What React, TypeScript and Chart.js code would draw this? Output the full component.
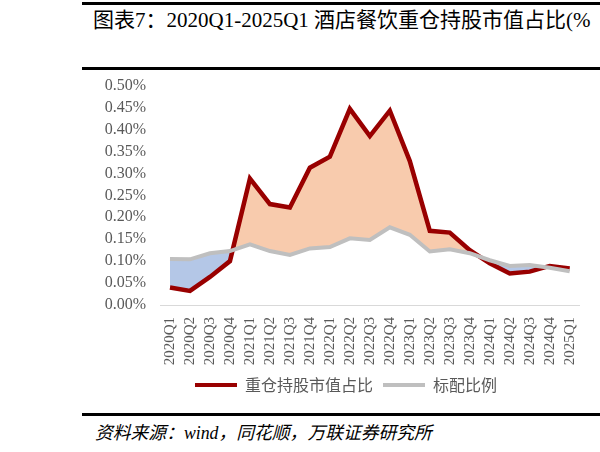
import React, { useEffect, useRef } from "react";
import { Chart, registerables } from "chart.js";

Chart.register(...registerables);

const categories = [
  "2020Q1", "2020Q2", "2020Q3", "2020Q4",
  "2021Q1", "2021Q2", "2021Q3", "2021Q4",
  "2022Q1", "2022Q2", "2022Q3", "2022Q4",
  "2023Q1", "2023Q2", "2023Q3", "2023Q4",
  "2024Q1", "2024Q2", "2024Q3", "2024Q4",
  "2025Q1",
];

const heavyHolding = [
  0.040, 0.032, 0.064, 0.100,
  0.288, 0.230, 0.222, 0.313,
  0.338, 0.447, 0.385, 0.443,
  0.328, 0.169, 0.165, 0.125,
  0.095, 0.072, 0.076, 0.089,
  0.083,
];

const benchmark = [
  0.105, 0.104, 0.118, 0.123,
  0.138, 0.123, 0.114, 0.129,
  0.132, 0.152, 0.148, 0.177,
  0.160, 0.122, 0.127, 0.118,
  0.102, 0.089, 0.091, 0.085,
  0.077,
];

const seriesNames = ["重仓持股市值占比", "标配比例"];
const titleText = "图表7：2020Q1-2025Q1 酒店餐饮重仓持股市值占比(%";
const sourceText = "资料来源：wind，同花顺，万联证券研究所";

const RED = "#990000";
const GRAY = "#BFBFBF";
const SERIF = "'Liberation Serif', 'Noto Sans CJK SC', serif";

export default function App() {
  const ref = useRef<HTMLCanvasElement | null>(null);

  useEffect(() => {
    if (!ref.current) return;
    const chart = new Chart(ref.current, {
      type: "line",
      data: {
        labels: categories,
        datasets: [
          {
            label: seriesNames[1],
            data: benchmark,
            borderColor: GRAY,
            backgroundColor: GRAY,
            borderWidth: 4,
            pointRadius: 0,
            tension: 0,
            fill: false,
            borderJoinStyle: "miter",
          },
          {
            label: seriesNames[0],
            data: heavyHolding,
            borderColor: RED,
            backgroundColor: RED,
            borderWidth: 4.5,
            pointRadius: 0,
            tension: 0,
            borderJoinStyle: "miter",
            fill: { target: 0, above: "#F8CBAD", below: "#B4C7E7" },
          },
        ],
      },
      options: {
        responsive: false,
        animation: false,
        layout: { padding: { left: 105, right: 13, top: 8, bottom: 7 } },
        plugins: {
          tooltip: { enabled: false },
          legend: {
            position: "bottom",
            labels: {
              boxWidth: 42,
              boxHeight: 4,
              padding: 10,
              color: "#595959",
              font: { family: "'Noto Sans CJK SC', sans-serif", size: 16 },
              sort: (a: any, b: any) => b.datasetIndex - a.datasetIndex,
              generateLabels: (c: any) =>
                c.data.datasets.map((ds: any, i: number) => ({
                  text: ds.label,
                  fillStyle: ds.borderColor,
                  strokeStyle: ds.borderColor,
                  lineWidth: 0,
                  hidden: false,
                  datasetIndex: i,
                  fontColor: "#595959",
                })),
            },
          },
        },
        scales: {
          x: {
            offset: true,
            grid: { display: false, drawTicks: false },
            border: { display: true, color: "#D9D9D9", width: 1 },
            ticks: {
              color: "#595959",
              font: { family: SERIF, size: 15 },
              maxRotation: 90,
              minRotation: 90,
              padding: 12,
              autoSkip: false,
            },
            afterFit: (axis: any) => {
              axis.height = 62;
            },
          },
          y: {
            min: 0,
            max: 0.5,
            grid: { display: false, drawTicks: false },
            border: { display: false },
            ticks: {
              stepSize: 0.05,
              autoSkip: false,
              color: "#595959",
              font: { family: SERIF, size: 16 },
              padding: 14,
              callback: (v: any) => Number(v).toFixed(2) + "%",
            },
            afterFit: (axis: any) => {
              axis.width = 55;
            },
          },
        },
      },
    });
    return () => chart.destroy();
  }, []);

  return (
    <div
      style={{
        position: "fixed",
        left: 0,
        top: 0,
        width: 600,
        height: 452,
        background: "#fff",
        overflow: "hidden",
      }}
    >
      <div style={{ position: "absolute", left: 82, right: 0, top: 2, height: 3, background: "#000" }} />
      <div
        style={{
          position: "absolute",
          left: 93,
          top: 7,
          lineHeight: "26px",
          fontSize: 21,
          fontFamily: SERIF,
          color: "#000",
          whiteSpace: "nowrap",
        }}
      >
        {titleText}
      </div>
      <div style={{ position: "absolute", left: 82, right: 0, top: 67, height: 3, background: "#000" }} />
      <canvas
        ref={ref}
        width={600}
        height={348}
        style={{ position: "absolute", left: 0, top: 62 }}
      />
      <div style={{ position: "absolute", left: 82, right: 0, top: 413, height: 3, background: "#000" }} />
      <div
        style={{
          position: "absolute",
          left: 95,
          top: 421,
          lineHeight: "24px",
          fontSize: 17.8,
          fontStyle: "italic",
          fontFamily: SERIF,
          color: "#000",
          whiteSpace: "nowrap",
        }}
      >
        {sourceText}
      </div>
    </div>
  );
}
